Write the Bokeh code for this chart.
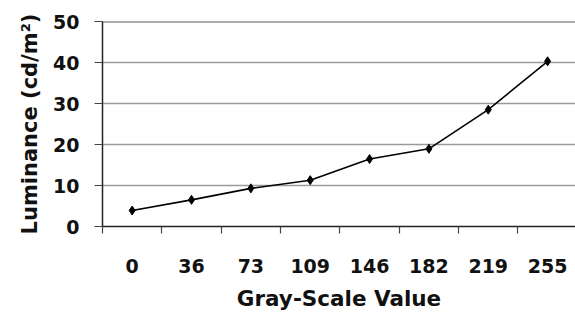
from bokeh.plotting import figure
from bokeh.models import Range1d, FixedTicker, Span
from bokeh.embed import file_html
from bokeh.resources import INLINE

gray_values = ["0", "36", "73", "109", "146", "182", "219", "255"]
luminance = [3.9, 6.5, 9.3, 11.3, 16.45, 18.95, 28.5, 40.3]
y_ticks = [0, 10, 20, 30, 40, 50]

xs = [i + 0.5 for i in range(len(gray_values))]

FONT = "DejaVu Sans"

p = figure(width=575, height=313, output_backend="svg", toolbar_location=None,
           x_range=Range1d(0, 7.97), y_range=Range1d(0, 50),
           min_border_left=102, min_border_top=21, min_border_bottom=86,
           min_border_right=0)
p.outline_line_color = None
p.background_fill_color = "white"
p.border_fill_color = "white"

# grid
p.xgrid.grid_line_color = None
p.ygrid.ticker = FixedTicker(ticks=y_ticks[1:-1])
p.ygrid.grid_line_color = "#9a9a9a"
p.ygrid.grid_line_width = 1.5
p.add_layout(Span(location=y_ticks[-1], dimension="width", line_color="#5a5a5a", line_width=2))

# y axis
ya = p.yaxis[0]
ya.ticker = FixedTicker(ticks=y_ticks)
ya.major_tick_out = 8
ya.major_tick_in = 0
ya.minor_tick_out = 0
ya.minor_tick_in = 0
ya.axis_line_color = "#222222"
ya.axis_line_width = 1.5
ya.major_tick_line_color = "#444444"
ya.major_tick_line_width = 1.2
ya.major_label_text_font = FONT
ya.major_label_text_font_style = "bold"
ya.major_label_text_font_size = "19px"
ya.major_label_text_color = "#111111"
ya.major_label_standoff = 15
ya.axis_label = "Luminance (cd/m²)"
ya.axis_label_text_font = FONT
ya.axis_label_text_font_style = "bold"
ya.axis_label_text_font_size = "21px"
ya.axis_label_text_color = "#111111"
ya.axis_label_standoff = 8

# x axis
xa = p.xaxis[0]
xa.ticker = FixedTicker(ticks=xs, minor_ticks=list(range(len(gray_values))))
xa.major_label_overrides = {x: g for x, g in zip(xs, gray_values)}
xa.major_tick_out = 0
xa.major_tick_in = 0
xa.minor_tick_out = 7
xa.minor_tick_in = 0
xa.minor_tick_line_color = "#444444"
xa.minor_tick_line_width = 1.2
xa.axis_line_color = "#222222"
xa.axis_line_width = 1.5
xa.major_label_text_font = FONT
xa.major_label_text_font_style = "bold"
xa.major_label_text_font_size = "19px"
xa.major_label_text_color = "#111111"
xa.major_label_standoff = 25
xa.axis_label = "Gray-Scale Value"
xa.axis_label_text_font = FONT
xa.axis_label_text_font_style = "bold"
xa.axis_label_text_font_size = "21.5px"
xa.axis_label_text_color = "#111111"
xa.axis_label_standoff = 10

p.line(xs, luminance, line_color="black", line_width=1.6)
p.scatter(xs, luminance, marker="diamond", size=9, fill_color="black", line_color="black")

open("out.html", "w").write(file_html(p, INLINE))
